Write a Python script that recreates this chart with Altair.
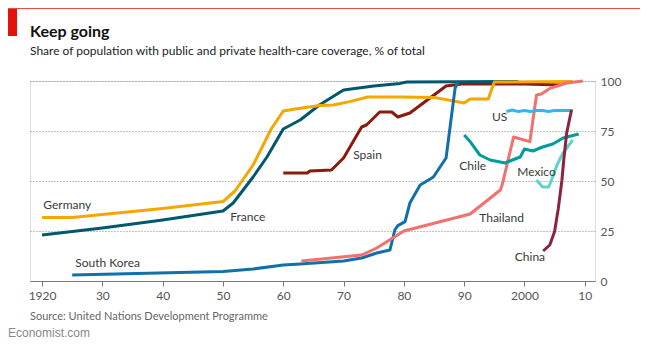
import altair as alt
import pandas as pd

# ---- data ----
germany_year = [1920, 1925, 1930, 1940, 1950, 1952, 1955, 1958, 1960, 1962, 1966, 1968.3, 1971, 1974, 1979.4, 1985, 1990, 1991, 1994, 1995, 2008]
germany_val = [31.7, 31.7, 33.3, 36.3, 39.7, 45, 58, 76, 85, 86, 87.7, 88, 89.7, 92, 92, 91.8, 89, 91, 91, 99.5, 99.7]

france_year = [1920, 1930, 1940, 1950, 1951.7, 1955, 1957.3, 1960, 1962.8, 1966, 1970, 1975, 1979.4, 1980.5, 1999]
france_val = [23, 26.5, 30.5, 35, 39, 52, 62, 76, 80.5, 88, 95.5, 97.5, 98.8, 99.5, 99.8]

spain_year = [1960, 1964, 1964.4, 1968, 1970, 1973, 1973.8, 1976, 1978, 1979, 1981, 1987, 1989.6, 2000, 2006]
spain_val = [54, 54, 55, 55.5, 61.5, 77, 78, 84.5, 84.5, 82, 84, 97.5, 98.5, 98.5, 98]

korea_year = [1925, 1950, 1955, 1960, 1962.8, 1970, 1973, 1975.5, 1977.7, 1978.5, 1979, 1980.2, 1981, 1982.7, 1984.9, 1987, 1988.5, 1989]
korea_val = [3, 4.7, 6, 8, 8.5, 10, 11.5, 14, 15.5, 25.5, 27.7, 29.7, 39, 48, 52, 61.5, 96.5, 99.5]

thailand_year = [1963, 1973, 1975.5, 1980, 1991, 1996, 1996.3, 1998.2, 2000.9, 2002, 2002.8, 2004.2, 2007, 2009.7]
thailand_val = [10, 13, 16.5, 25, 33.5, 45.5, 48, 72, 69.7, 93, 93.5, 96.3, 99, 100]

us_year = [1997, 1998, 1999, 2000, 2001, 2002, 2003, 2004, 2005, 2006, 2007, 2008]
us_val = [84.7, 85.5, 84.7, 85.2, 84.7, 85.2, 85.2, 84.7, 85.2, 85.2, 85.2, 85.2]

chile_year = [1990, 1991, 1992.6, 1994.3, 1996.8, 1998, 1999.3, 2000, 2001.4, 2003, 2004.7, 2006.4, 2009]
chile_val = [73, 69.7, 63, 60.5, 59, 60.5, 62, 66, 65, 67, 68.5, 71.5, 73.5]

mexico_year = [2002, 2003, 2004, 2004.5, 2005.4, 2006.4, 2008]
mexico_val = [50.5, 47, 47, 50.5, 58, 64, 70.5]

china_year = [2003.1, 2004.2, 2005, 2005.6, 2006.2, 2006.5, 2007, 2007.8]
china_val = [15, 18, 24.7, 36, 50, 60, 74, 85.5]

# label annotations
label_text = ["Germany", "France", "South Korea", "Spain", "Chile", "US", "Mexico", "Thailand", "China"]
label_year = [1920.2, 1951.2, 1925.5, 1971.6, 1989.2, 1994.6, 1998.8, 1992.5, 1998.4]
label_val = [38, 32, 9, 63, 57.5, 82, 54.5, 31.5, 12]

tick_years = [1920, 1930, 1940, 1950, 1960, 1970, 1980, 1990, 2000, 2010]
y_ticks = [0, 25, 50, 75, 100]

series = [
    ("Spain", spain_year, spain_val, "#8b1a0e"),
    ("France", france_year, france_val, "#00586f"),
    ("Germany", germany_year, germany_val, "#f5a600"),
    ("South Korea", korea_year, korea_val, "#1170aa"),
    ("Thailand", thailand_year, thailand_val, "#f2706e"),
    ("Chile", chile_year, chile_val, "#009c9b"),
    ("Mexico", mexico_year, mexico_val, "#5fd3cb"),
    ("US", us_year, us_val, "#35b6e8"),
    ("China", china_year, china_val, "#8c2440"),
]

FONT = "Lato"
W, H = 565, 200

x_enc = alt.X(
    "year:Q",
    scale=alt.Scale(domain=[1918, 2011.7], nice=False, zero=False),
    axis=alt.Axis(
        values=tick_years,
        labelExpr="(datum.value == 1920 || datum.value == 2000) ? '' + datum.value : substring('' + datum.value, 2)",
        title=None, grid=False, tickSize=5, labelPadding=4,
        domainColor="#777", tickColor="#777", labelColor="#555",
        labelFont=FONT, labelFontSize=12,
    ),
)
y_enc = alt.Y(
    "value:Q",
    scale=alt.Scale(domain=[0, 100], nice=False),
    axis=alt.Axis(
        orient="right", values=y_ticks, grid=True, gridDash=[1, 2],
        gridColor="#888", gridWidth=1, domain=False, ticks=False,
        labelPadding=5, labelColor="#555", labelFontSize=12, labelFont=FONT,
        title=None,
    ),
)

layers = []
for name, yrs, vals, col in series:
    df = pd.DataFrame({"year": yrs, "value": vals})
    layers.append(
        alt.Chart(df).mark_line(color=col, strokeWidth=3, strokeJoin="round").encode(x=x_enc, y=y_enc)
    )

lab_df = pd.DataFrame({"label": label_text, "year": label_year, "value": label_val})
labels = alt.Chart(lab_df).mark_text(
    align="left", baseline="middle", font=FONT, fontSize=12, color="#3a3a3a"
).encode(x=x_enc, y=y_enc, text="label:N")
layers.append(labels)

one = pd.DataFrame({"a": [0]})
red_line = alt.Chart(one).mark_rule(color="#e3120b", strokeWidth=1.5).encode(
    x=alt.value(-22), x2=alt.value(610), y=alt.value(-73))
red_block = alt.Chart(one).mark_rect(color="#e3120b").encode(
    x=alt.value(-22), x2=alt.value(-13), y=alt.value(-72), y2=alt.value(-45))
title = alt.Chart(one).mark_text(
    text="Keep going", align="left", baseline="alphabetic", font=FONT,
    fontSize=16, fontWeight="bold", color="#111").encode(x=alt.value(0), y=alt.value(-44))
subtitle = alt.Chart(one).mark_text(
    text="Share of population with public and private health-care coverage, % of total",
    align="left", baseline="alphabetic", font=FONT, fontSize=12, color="#222").encode(
    x=alt.value(0), y=alt.value(-26))
source = alt.Chart(one).mark_text(
    text="Source: United Nations Development Programme", align="left", baseline="alphabetic",
    font=FONT, fontSize=11, color="#666").encode(x=alt.value(0), y=alt.value(238.5))
econ = alt.Chart(one).mark_text(
    text="Economist.com", align="left", baseline="alphabetic",
    font="Liberation Sans", fontSize=12, color="#888").encode(x=alt.value(-22), y=alt.value(256))

chart = alt.layer(*layers, red_line, red_block, title, subtitle, source, econ).properties(
    width=W, height=H,
    autosize=alt.AutoSizeParams(type="none"),
    padding={"left": 22, "top": 73, "right": 51, "bottom": 69},
).configure_view(stroke=None).configure(background="white")

chart.save("out.html", embed_options={"renderer": "svg", "actions": False})
